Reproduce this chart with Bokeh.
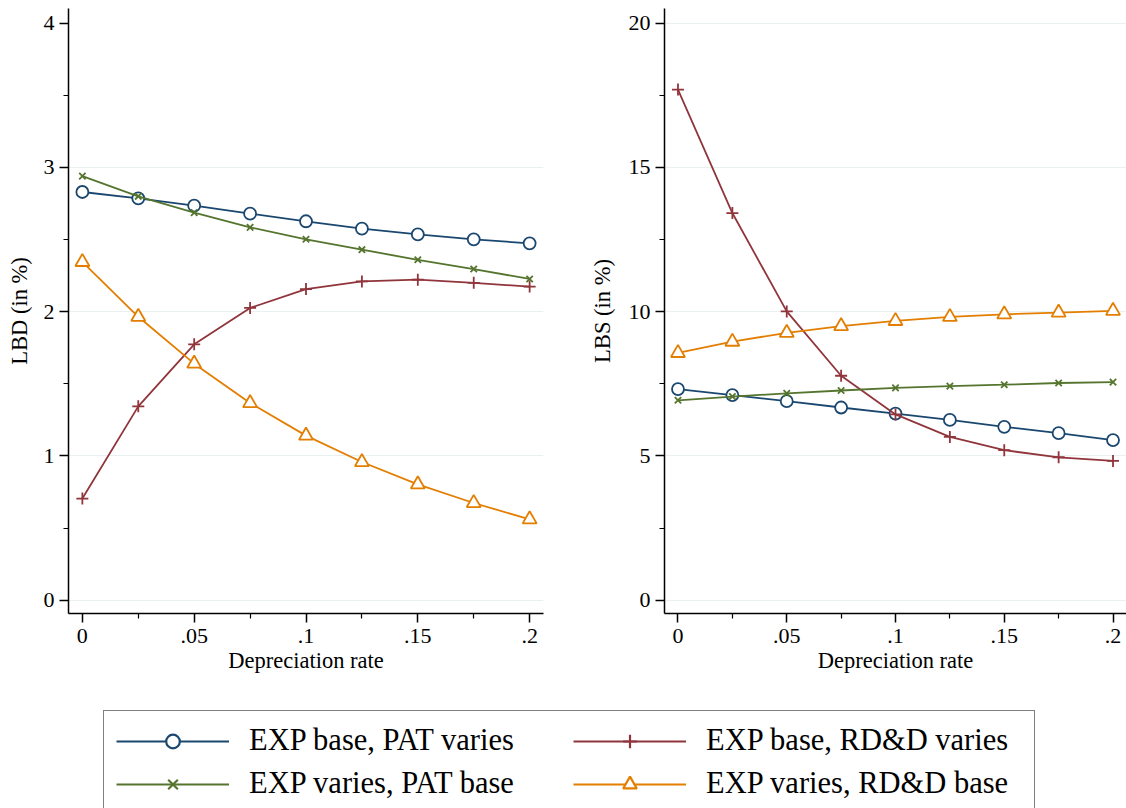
from bokeh.plotting import figure
from bokeh.layouts import column, row
from bokeh.models import Range1d, FixedTicker, Legend, LegendItem
from bokeh.embed import file_html
from bokeh.resources import INLINE

# ---------------- data ----------------
dep_rate = [0, 0.025, 0.05, 0.075, 0.1, 0.125, 0.15, 0.175, 0.2]

series_labels = ["EXP base, PAT varies", "EXP base, RD&D varies",
                 "EXP varies, PAT base", "EXP varies, RD&D base"]

lbd_exp_base_pat_varies = [2.83, 2.786, 2.735, 2.68, 2.627, 2.576, 2.536, 2.502, 2.474]
lbd_exp_base_rdd_varies = [0.705, 1.344, 1.774, 2.026, 2.157, 2.21, 2.222, 2.20, 2.174]
lbd_exp_varies_pat_base = [2.94, 2.80, 2.687, 2.585, 2.502, 2.43, 2.36, 2.296, 2.227]
lbd_exp_varies_rdd_base = [2.345, 1.965, 1.64, 1.367, 1.141, 0.958, 0.803, 0.674, 0.561]

lbs_exp_base_pat_varies = [7.32, 7.11, 6.90, 6.68, 6.47, 6.25, 6.01, 5.79, 5.55]
lbs_exp_base_rdd_varies = [17.70, 13.42, 10.01, 7.78, 6.44, 5.66, 5.20, 4.955, 4.83]
lbs_exp_varies_pat_base = [6.93, 7.06, 7.17, 7.27, 7.36, 7.42, 7.47, 7.53, 7.56]
lbs_exp_varies_rdd_base = [8.57, 8.96, 9.27, 9.50, 9.68, 9.82, 9.91, 9.97, 10.03]

x_ticks = [0, 0.05, 0.1, 0.15, 0.2]
x_tick_labels = ["0", ".05", ".1", ".15", ".2"]
x_minor_ticks = [0.025, 0.075, 0.125, 0.175]

lbd_ticks = [0, 1, 2, 3, 4]
lbd_minor_ticks = [0.5, 1.5, 2.5, 3.5]
lbd_grid = [0, 1, 2, 3]

lbs_ticks = [0, 5, 10, 15, 20]
lbs_minor_ticks = [2.5, 7.5, 12.5, 17.5]
lbs_grid = [0, 5, 10, 15, 20]

# ---------------- styles ----------------
colors = ["#1a476f", "#90353b", "#55752f", "#e37e00"]
markers = ["circle", "cross", "x", "triangle"]
marker_sizes = [12, 12, 9, 14]
FONT = "Liberation Serif"


def style_axis(ax, label_standoff, title_standoff):
    ax.axis_line_color = "black"
    ax.axis_line_width = 1.5
    ax.major_tick_line_color = "black"
    ax.major_tick_line_width = 1.5
    ax.minor_tick_line_color = "black"
    ax.minor_tick_line_width = 1.2
    ax.major_tick_in = 0
    ax.major_tick_out = 9
    ax.minor_tick_in = 0
    ax.minor_tick_out = 5
    ax.major_label_text_font = FONT
    ax.major_label_text_font_size = "22px"
    ax.major_label_text_color = "black"
    ax.major_label_standoff = label_standoff
    ax.axis_label_text_font = FONT
    ax.axis_label_text_font_size = "22.5px"
    ax.axis_label_text_font_style = "normal"
    ax.axis_label_text_color = "black"
    ax.axis_label_standoff = title_standoff


def make_panel(width, border_left, border_right, y_range, ticks, minor, grid,
               ytitle, ytitle_standoff, ys):
    p = figure(width=width, height=700, output_backend="svg", toolbar_location=None,
               x_range=Range1d(-0.0062, 0.2062), y_range=Range1d(*y_range),
               min_border_left=border_left, min_border_right=border_right,
               min_border_top=8, min_border_bottom=87)
    p.outline_line_color = None
    p.background_fill_color = "white"
    p.border_fill_color = "white"
    p.xgrid.visible = False
    p.ygrid.ticker = FixedTicker(ticks=grid)
    p.ygrid.grid_line_color = "#e8f0f2"
    p.ygrid.grid_line_width = 1.2

    p.xaxis.ticker = FixedTicker(ticks=x_ticks, minor_ticks=x_minor_ticks)
    p.xaxis.major_label_overrides = {float(k): v for k, v in zip(x_ticks, x_tick_labels)}
    p.xaxis.axis_label = "Depreciation rate"
    style_axis(p.xaxis[0], 6, 2)

    p.yaxis.ticker = FixedTicker(ticks=ticks, minor_ticks=minor)
    p.yaxis.axis_label = ytitle
    style_axis(p.yaxis[0], 5, ytitle_standoff)

    for vals, c, m, s in zip(ys, colors, markers, marker_sizes):
        p.line(dep_rate, vals, line_color=c, line_width=1.8)
        p.scatter(dep_rate, vals, marker=m, size=s, line_color=c, line_width=1.8,
                  fill_color="white" if m in ("circle", "triangle") else c)
    return p


p1 = make_panel(560, 68, 17, (-0.092, 4.102), lbd_ticks, lbd_minor_ticks, lbd_grid,
                "LBD (in %)", 9,
                [lbd_exp_base_pat_varies, lbd_exp_base_rdd_varies,
                 lbd_exp_varies_pat_base, lbd_exp_varies_rdd_base])
p2 = make_panel(566, 104, 0, (-0.46, 20.51), lbs_ticks, lbs_minor_ticks, lbs_grid,
                "LBS (in %)", 11,
                [lbs_exp_base_pat_varies, lbs_exp_base_rdd_varies,
                 lbs_exp_varies_pat_base, lbs_exp_varies_rdd_base])

# ---------------- legend panel ----------------
p3 = figure(width=1126, height=108, output_backend="svg", toolbar_location=None,
            x_range=Range1d(0, 1), y_range=Range1d(100, 101),
            x_axis_location=None, y_axis_location=None,
            min_border=0)
p3.outline_line_color = None
p3.grid.visible = False

items = []
for vals, c, m, lab in zip([lbs_exp_base_pat_varies, lbs_exp_base_rdd_varies,
                            lbs_exp_varies_pat_base, lbs_exp_varies_rdd_base],
                           colors, markers, series_labels):
    lr = p3.line(dep_rate, vals, line_color=c, line_width=2.2)
    sr = p3.scatter(dep_rate, vals, marker=m, line_color=c, line_width=2.2,
                    fill_color="white" if m in ("circle", "triangle") else c)
    items.append(LegendItem(label=lab, renderers=[lr, sr]))

legend = Legend(items=items, location=(103, -6), orientation="horizontal", ncols=2,
                glyph_width=113, glyph_height=34, label_height=34, label_width=316,
                label_standoff=20, spacing=8, padding=12,
                label_text_font=FONT, label_text_font_size="30.5px",
                label_text_color="black",
                border_line_color="black", border_line_width=1.5,
                background_fill_color="white", background_fill_alpha=1.0)
p3.add_layout(legend, "center")

layout = column(row(p1, p2), p3)

open("out.html", "w").write(file_html(layout, INLINE))
